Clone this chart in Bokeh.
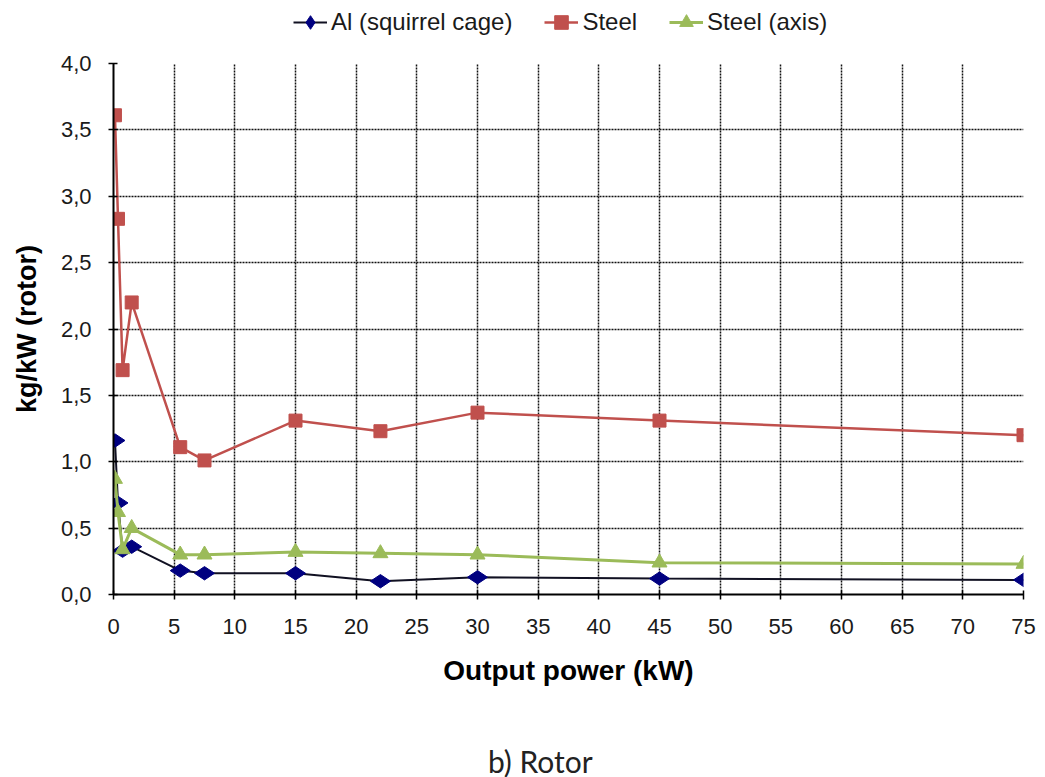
import math
from bokeh.plotting import figure
from bokeh.layouts import column
from bokeh.models import (Range1d, SingleIntervalTicker, CustomJSTickFormatter,
                          Legend, LegendItem, Label, ColumnDataSource)
from bokeh.embed import file_html
from bokeh.resources import INLINE

# Rated output power of each motor (kW)
power_kw = [0.12, 0.37, 0.75, 1.5, 5.5, 7.5, 15, 22, 30, 45, 75]

# Specific rotor mass (kg per kW of output power)
al_cage = [1.16, 0.69, 0.33, 0.36, 0.18, 0.16, 0.16, 0.10, 0.13, 0.12, 0.11]
steel = [3.61, 2.83, 1.69, 2.20, 1.11, 1.01, 1.31, 1.23, 1.37, 1.31, 1.20]
steel_axis = [0.87, 0.62, 0.34, 0.50, 0.30, 0.30, 0.32, 0.31, 0.30, 0.24, 0.23]

series_names = ["Al (squirrel cage)", "Steel", "Steel (axis)"]
caption_text = "b) Rotor"

FONT = "Liberation Sans"
W, H = 1045, 777
LEGEND_H = 50
PLOT_H = 13 + 531 + 110
CAPTION_H = H - LEGEND_H - PLOT_H
BLUE_LINE, BLUE = "#111122", "#000080"
RED = "#C0504D"
GREEN = "#9BBB59"

p = figure(width=W, height=PLOT_H, output_backend="svg", toolbar_location=None,
           x_range=Range1d(0, 75), y_range=Range1d(0, 4.0),
           min_border_left=113, min_border_right=22, min_border_top=13,
           min_border_bottom=110)
p.background_fill_color = "white"
p.border_fill_color = "white"
p.outline_line_color = None

# Axes
p.xaxis.ticker = SingleIntervalTicker(interval=5)
p.yaxis.ticker = SingleIntervalTicker(interval=0.5)
p.yaxis.formatter = CustomJSTickFormatter(code="return tick.toFixed(1).replace('.', ',');")
for ax in (p.xaxis[0], p.yaxis[0]):
    ax.axis_line_color = "black"
    ax.axis_line_width = 2
    ax.major_tick_line_color = "black"
    ax.major_tick_line_width = 1.5
    ax.major_tick_in = 4
    ax.major_tick_out = 5
    ax.minor_tick_line_color = None
    ax.major_label_text_font = FONT
    ax.major_label_text_font_size = "22px"
    ax.major_label_text_color = "#1a1a1a"
    ax.axis_label_text_font = FONT
    ax.axis_label_text_font_style = "bold"
    ax.axis_label_text_color = "black"
p.xaxis.axis_label = "Output power (kW)"
p.xaxis.axis_label_text_font_size = "28px"
p.xaxis.major_label_standoff = 19
p.xaxis.axis_label_standoff = 18
p.yaxis.axis_label = "kg/kW (rotor)"
p.yaxis.axis_label_text_font_size = "27px"
p.yaxis.major_label_standoff = 17
p.yaxis.axis_label_standoff = 16

# Grid
for g in (p.xgrid[0], p.ygrid[0]):
    g.grid_line_color = "#111111"
    g.grid_line_dash = "2 1"
    g.grid_line_width = 1.5

# Series
r_al_l = p.line(power_kw, al_cage, line_color=BLUE_LINE, line_width=2)
r_al_m = p.scatter(power_kw, al_cage, marker="diamond", size=20, angle=math.pi / 2,
                   fill_color=BLUE, line_color=BLUE)
r_st_l = p.line(power_kw, steel, line_color=RED, line_width=2.5)
r_st_m = p.scatter(power_kw, steel, marker="square", size=13,
                   fill_color=RED, line_color=RED)
r_sa_l = p.line(power_kw, steel_axis, line_color=GREEN, line_width=3)
r_sa_m = p.scatter(power_kw, steel_axis, marker="triangle", size=15,
                   fill_color=GREEN, line_color=GREEN)

# Legend strip across the top, using the same line/marker styling
lg = figure(width=W, height=LEGEND_H, output_backend="svg", toolbar_location=None,
            x_axis_type=None, y_axis_type=None, x_range=Range1d(0, 1), y_range=Range1d(0, 1),
            min_border=0)
lg.outline_line_color = None
lg.grid.visible = False
styles = [
    (dict(line_color=BLUE_LINE, line_width=2), dict(marker="diamond", angle=math.pi / 2, fill_color=BLUE, line_color=BLUE, size=15)),
    (dict(line_color=RED, line_width=2.5), dict(marker="square", fill_color=RED, line_color=RED, size=11)),
    (dict(line_color=GREEN, line_width=3), dict(marker="triangle", fill_color=GREEN, line_color=GREEN, size=13)),
]
items = []
for name, (lstyle, mstyle) in zip(series_names, styles):
    # points kept outside the visible range, used only for the legend swatch
    src = ColumnDataSource(dict(x=[-5.0, -4.0], y=[-5.0, -5.0]))
    rl = lg.line(x="x", y="y", source=src, **lstyle)
    rm = lg.scatter(x="x", y="y", source=src, **mstyle)
    items.append(LegendItem(label=name, renderers=[rl, rm]))

legend = Legend(items=items, orientation="horizontal", location=(180, 10),
                label_text_font=FONT, label_text_font_size="24px", label_text_color="#1a1a1a",
                border_line_color=None, background_fill_alpha=0, spacing=32,
                glyph_width=34, glyph_height=36, label_standoff=4, padding=0, margin=0,
                label_height=24)
lg.add_layout(legend, "center")

# Caption strip at the bottom
cap = figure(width=W, height=CAPTION_H, output_backend="svg", toolbar_location=None,
             x_axis_type=None, y_axis_type=None, x_range=Range1d(0, 1), y_range=Range1d(0, 1),
             min_border=0)
cap.outline_line_color = None
cap.grid.visible = False
cap.add_layout(Label(x=0.469, y=17, y_units="screen", text=caption_text,
                     text_font="Lato", text_font_size="30px", text_color="#222222",
                     text_align="center", text_baseline="middle"))

layout = column(lg, p, cap, spacing=0)
open("out.html", "w").write(file_html(layout, INLINE))
